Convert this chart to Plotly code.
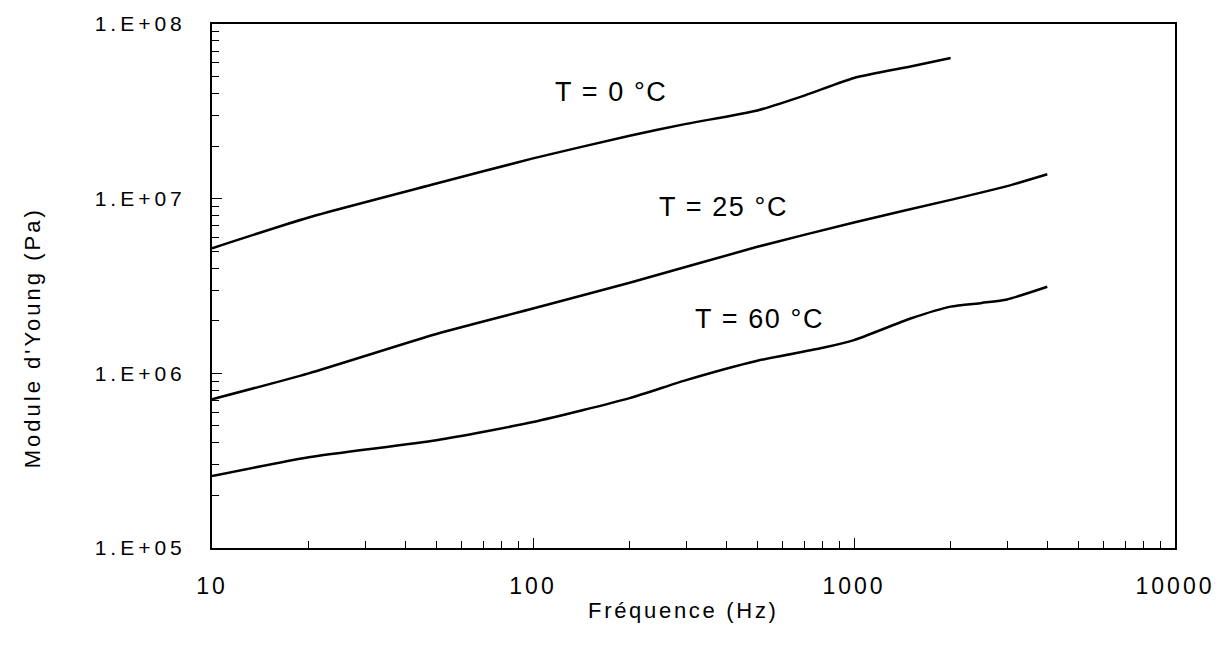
import plotly.graph_objects as go

# Frequency sweeps (Hz) and Young's modulus (Pa) at three temperatures
freq_0 = [10, 20, 50, 100, 200, 300, 500, 700, 1000, 1500, 2000]
young_0 = [5.2e6, 7.8e6, 1.22e7, 1.70e7, 2.29e7, 2.68e7, 3.20e7, 3.89e7, 4.91e7, 5.71e7, 6.38e7]

freq_25 = [10, 20, 50, 100, 200, 500, 1000, 2000, 3000, 4000]
young_25 = [7.1e5, 1.0e6, 1.68e6, 2.35e6, 3.30e6, 5.30e6, 7.31e6, 9.84e6, 1.18e7, 1.38e7]

freq_60 = [10, 20, 50, 100, 200, 300, 500, 800, 1000, 1500, 2000, 2500, 3000, 4000]
young_60 = [2.58e5, 3.31e5, 4.14e5, 5.26e5, 7.21e5, 9.14e5, 1.18e6, 1.40e6, 1.55e6,
            2.06e6, 2.41e6, 2.53e6, 2.65e6, 3.13e6]

curve_labels = ["T = 0 °C", "T = 25 °C", "T = 60 °C"]
# label anchor positions, in log10 axis units (freq, modulus)
label_pos = [(2.243, 7.588), (2.592, 6.932), (2.707, 6.288)]

x_ticks = [10, 100, 1000, 10000]
x_tick_text = ["10", "100", "1000", "10000"]
y_ticks = [1e5, 1e6, 1e7, 1e8]
y_tick_text = ["1.E+05", "1.E+06", "1.E+07", "1.E+08"]

x_title = "Fréquence (Hz)"
y_title = "Module d'Young (Pa)"

FONT = "Liberation Sans, Arial, Helvetica, sans-serif"


def spaced(s, px):
    return f"<span style='letter-spacing:{px}px'>{s}</span>"


def minor_vals(lo_exp, hi_exp):
    return [m * 10 ** e for e in range(lo_exp, hi_exp) for m in range(2, 10)]


fig = go.Figure()
for fx, fy in [(freq_0, young_0), (freq_25, young_25), (freq_60, young_60)]:
    fig.add_trace(go.Scatter(
        x=fx, y=fy, mode="lines",
        line=dict(color="black", width=2.5, shape="spline", smoothing=0.6),
        showlegend=False, hoverinfo="skip",
    ))

for text, (ax_x, ax_y) in zip(curve_labels, label_pos):
    fig.add_annotation(
        x=ax_x, y=ax_y, xref="x", yref="y", text=spaced(text, 1.6),
        showarrow=False, xanchor="center", yanchor="middle", yshift=4,
        font=dict(family=FONT, size=27, color="black"),
    )

# axis titles
fig.add_annotation(
    x=0.490, y=-0.120, xref="paper", yref="paper", text=spaced(x_title, 2.7),
    showarrow=False, xanchor="center", yanchor="middle",
    font=dict(family=FONT, size=22, color="black"),
)
fig.add_annotation(
    x=-0.187, y=0.402, xref="paper", yref="paper", text=spaced(y_title, 3),
    showarrow=False, xanchor="center", yanchor="middle", textangle=-90,
    font=dict(family=FONT, size=22, color="black"),
)

fig.update_xaxes(
    type="log", range=[1, 4],
    tickvals=x_ticks, ticktext=[spaced(t, 3) for t in x_tick_text],
    ticks="inside", ticklen=10, tickwidth=1.3, tickcolor="black",
    minor=dict(tickvals=minor_vals(1, 4), ticks="inside", ticklen=7,
               tickwidth=1.3, tickcolor="black", showgrid=False),
    showline=True, linecolor="black", linewidth=2, mirror=True,
    showgrid=False, zeroline=False,
    tickfont=dict(family=FONT, size=23, color="black"),
    ticklabelstandoff=16,
)
fig.update_yaxes(
    type="log", range=[5, 8],
    tickvals=y_ticks, ticktext=[spaced(t, 4) for t in y_tick_text],
    ticks="inside", ticklen=10, tickwidth=1.3, tickcolor="black",
    minor=dict(tickvals=minor_vals(5, 8), ticks="inside", ticklen=7,
               tickwidth=1.3, tickcolor="black", showgrid=False),
    showline=True, linecolor="black", linewidth=2, mirror=True,
    showgrid=False, zeroline=False,
    tickfont=dict(family=FONT, size=21, color="black"),
    ticklabelstandoff=20,
)

fig.update_layout(
    width=1231, height=645,
    margin=dict(l=212, r=56, t=16, b=97),
    paper_bgcolor="white", plot_bgcolor="white",
    font=dict(family=FONT, color="black"),
)

fig.write_html("out.html")
